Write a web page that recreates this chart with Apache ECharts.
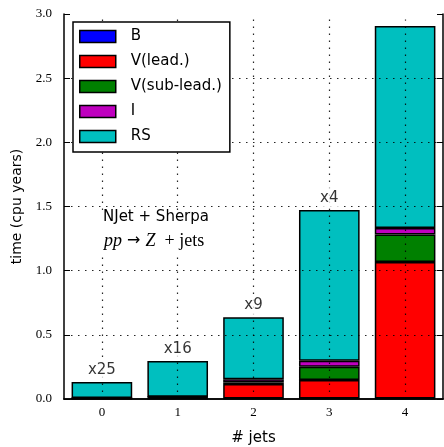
<!DOCTYPE html>
<html>
<head>
<meta charset="utf-8">
<script src="https://cdn.jsdelivr.net/npm/echarts@6/dist/echarts.min.js"></script>
<style>
  html, body { margin: 0; padding: 0; background: #fff; }
  #chart { width: 444px; height: 447px; }
</style>
</head>
<body>
<div id="chart"></div>
<script>
// Number of jets in the final state
const categories = ['0', '1', '2', '3', '4'];

// CPU time per contribution (cpu years)
const bornValues   = [0.002, 0.003, 0.003, 0.003, 0.004];
const vLeadValues  = [0.003, 0.010, 0.113, 0.145, 1.064];
const vSubValues   = [0.001, 0.003, 0.012, 0.104, 0.213];
const iValues      = [0.001, 0.002, 0.025, 0.046, 0.052];
const rsValues     = [0.126, 0.278, 0.484, 1.175, 1.573];

// Scaling factors written above the bars
const multipliers = ['x25', 'x16', 'x9', 'x4', ''];

// Y axis ticks
const yTicks = [0.5, 1.0, 1.5, 2.0, 2.5];

const seriesDefs = [
  { name: 'B',            values: bornValues,  color: '#0000ff' },
  { name: 'V(lead.)',     values: vLeadValues, color: '#ff0000' },
  { name: 'V(sub-lead.)', values: vSubValues,  color: '#008000' },
  { name: 'I',            values: iValues,     color: '#bf00bf' },
  { name: 'RS',           values: rsValues,    color: '#00bfbf' }
];

const totals = categories.map((_, i) =>
  seriesDefs.reduce((s, d) => s + d.values[i], 0));

const sans = 'DejaVu Sans';
const serif = 'Liberation Serif';

const barSeries = seriesDefs.map(d => ({
  name: d.name,
  type: 'bar',
  stack: 'total',
  barWidth: '80%',
  z: 2,
  data: d.values,
  itemStyle: { color: d.color, borderColor: '#000', borderWidth: 1.5 }
}));

const dotted = { color: '#000', width: 1.2, type: [1.5, 5.5], opacity: 0.85 };

const gridSeries = {
  name: 'grid',
  type: 'line',
  data: [],
  z: 3,
  silent: true,
  markLine: {
    silent: true,
    symbol: 'none',
    animation: false,
    label: { show: false },
    lineStyle: dotted,
    z: 3,
    data: [
      ...yTicks.map(v => ({ yAxis: v })),
      ...categories.map(c => ({ xAxis: c }))
    ]
  }
};

const labelSeries = {
  name: 'factors',
  type: 'scatter',
  z: 4,
  symbolSize: 1,
  itemStyle: { color: 'rgba(0,0,0,0)' },
  data: totals,
  label: {
    show: true,
    position: 'top',
    distance: 1,
    formatter: p => multipliers[p.dataIndex],
    fontFamily: sans,
    fontSize: 15,
    color: '#000',
    backgroundColor: '#fff',
    padding: [2, 3, 2, 3],
    lineHeight: 17
  }
};

const chart = echarts.init(document.getElementById('chart'), null, { renderer: 'canvas' });

chart.setOption({
  animation: false,
  backgroundColor: '#fff',
  grid: { left: 64, right: 1, top: 14, bottom: 48, containLabel: false, outerBoundsMode: 'none' },
  legend: {
    orient: 'vertical',
    left: 73,
    top: 22,
    data: seriesDefs.map(d => d.name),
    icon: 'rect',
    itemWidth: 36,
    itemHeight: 12,
    itemGap: 10,
    padding: [7, 8, 8, 6],
    backgroundColor: '#fff',
    borderColor: '#000',
    borderWidth: 1.5,
    borderRadius: 0,
    itemStyle: { borderColor: '#000', borderWidth: 1.5 },
    textStyle: {
      fontFamily: sans, fontSize: 15, color: '#000',
      lineHeight: 15, padding: [0, 0, 0, 10]
    },
    selectedMode: false,
    z: 10
  },
  xAxis: [
    {
      type: 'category',
      data: categories,
      position: 'bottom',
      name: '# jets',
      nameLocation: 'middle',
      nameGap: 32,
      nameTextStyle: { fontFamily: sans, fontSize: 15, color: '#000' },
      axisLine: { lineStyle: { color: '#000', width: 1.5 } },
      axisTick: { inside: true, alignWithLabel: true, length: 6, lineStyle: { color: '#000', width: 1 } },
      axisLabel: { fontFamily: serif, fontSize: 13, color: '#000', margin: 7 },
      splitLine: { show: false }
    },
    {
      type: 'category',
      data: categories,
      position: 'top',
      axisLine: { lineStyle: { color: '#000', width: 1.5 } },
      axisTick: { inside: true, alignWithLabel: true, length: 6, lineStyle: { color: '#000', width: 1 } },
      axisLabel: { show: false },
      splitLine: { show: false }
    }
  ],
  yAxis: [
    {
      type: 'value',
      min: 0,
      max: 3,
      interval: 0.5,
      position: 'left',
      name: 'time (cpu years)',
      nameLocation: 'middle',
      nameGap: 37,
      nameTextStyle: { fontFamily: sans, fontSize: 14, color: '#000' },
      axisLine: { show: true, lineStyle: { color: '#000', width: 1.5 } },
      axisTick: { show: true, inside: true, length: 6, lineStyle: { color: '#000', width: 1 } },
      axisLabel: { fontFamily: serif, fontSize: 13, color: '#000', margin: 12,
                   formatter: v => v.toFixed(1) },
      splitLine: { show: false }
    },
    {
      type: 'value',
      min: 0,
      max: 3,
      interval: 0.5,
      position: 'right',
      axisLine: { show: true, lineStyle: { color: '#000', width: 1.5 } },
      axisTick: { show: true, inside: true, length: 6, lineStyle: { color: '#000', width: 1 } },
      axisLabel: { show: false },
      splitLine: { show: false }
    }
  ],
  graphic: [
    // White panel behind the process description
    {
      type: 'rect',
      left: 100,
      top: 210,
      z: 5,
      shape: { width: 122, height: 46 },
      style: { fill: '#fff' }
    },
    {
      type: 'text',
      left: 103,
      top: 210,
      z: 6,
      style: { text: 'NJet + Sherpa', font: '15px "DejaVu Sans"', fill: '#000' }
    },
    {
      type: 'text',
      left: 104,
      top: 232,
      z: 6,
      style: {
        text: '{it|pp}{a| → }{it|Z}{n|  + jets}',
        fill: '#000',
        rich: {
          it: { fontFamily: serif, fontStyle: 'italic', fontSize: 18, lineHeight: 20 },
          a: { fontFamily: 'DejaVu Sans', fontSize: 16, lineHeight: 20 },
          n: { fontFamily: serif, fontSize: 18, lineHeight: 20 }
        }
      }
    }
  ],
  series: [...barSeries, gridSeries, labelSeries]
});
</script>
</body>
</html>
